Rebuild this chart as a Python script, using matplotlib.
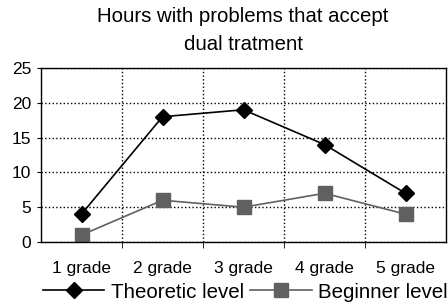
import matplotlib.pyplot as plt
import numpy as np

categories = ["1 grade", "2 grade", "3 grade", "4 grade", "5 grade"]
theoretic = [4, 18, 19, 14, 7]
beginner = [1, 6, 5, 7, 4]

plt.rcParams['font.family'] = ['Liberation Sans', 'DejaVu Sans']

fig = plt.figure(figsize=(4.48, 3.06), dpi=100)
ax = fig.add_axes([41 / 448, 1 - 242 / 306, 405 / 448, 174 / 306])

x = np.arange(len(categories))
ax.plot(x, theoretic, color='black', marker='D', markersize=8, linewidth=1.2,
        label='Theoretic level')
ax.plot(x, beginner, color='#606060', marker='s', markersize=10, linewidth=1.2,
        label='Beginner level')

ax.set_xlim(-0.5, len(categories) - 0.5)
ax.set_ylim(0, 25)
ax.set_yticks([0, 5, 10, 15, 20, 25])
ax.set_xticks(x)
ax.set_xticklabels(categories)
ax.set_xticks(np.arange(0.5, len(categories) - 0.5, 1), minor=True)
ax.tick_params(axis='x', which='major', length=0, pad=14, labelsize=12.5)
ax.tick_params(axis='x', which='minor', length=4, direction='out', color='black')
ax.tick_params(axis='y', length=3, labelsize=12.5, color='black', pad=4)

ax.grid(True, axis='y', linestyle=':', color='black', linewidth=1)
ax.grid(True, axis='x', which='minor', linestyle=':', color='black', linewidth=1)
ax.set_axisbelow(True)
for s in ax.spines.values():
    s.set_color('black')
    s.set_linewidth(1)

fig.text(243 / 448, 1 - 31 / 306, "Hours with problems that accept\ndual tratment",
         ha='center', va='center', fontsize=14.7, linespacing=1.6)

leg = fig.legend(loc='center', bbox_to_anchor=(245 / 448, 1 - 292 / 306), ncol=2,
                 frameon=False, fontsize=14.8, handlelength=3.0, columnspacing=0.3,
                 handletextpad=0.3, borderaxespad=0)

fig.savefig('out.png', dpi=100)
